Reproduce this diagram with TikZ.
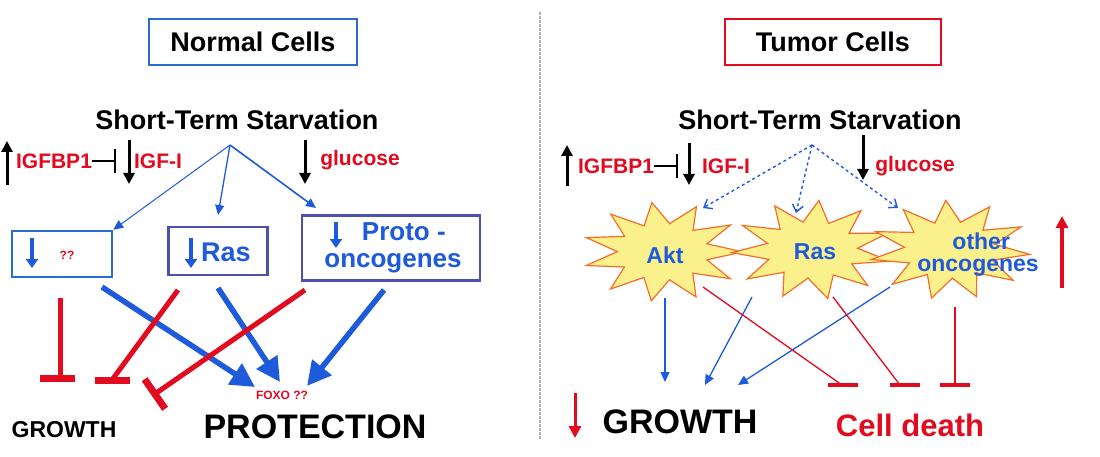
\documentclass[tikz,border=0pt]{standalone}
\usepackage{fontspec}
\setmainfont{Liberation Sans}
\usetikzlibrary{arrows.meta,shapes.geometric}
\definecolor{rd}{RGB}{225,10,30}
\definecolor{bl}{RGB}{30,90,220}
\definecolor{bx}{RGB}{40,110,210}
\definecolor{bx2}{RGB}{75,80,170}
\definecolor{yel}{RGB}{250,240,140}
\definecolor{org}{RGB}{245,110,40}
\tikzset{
 txt/.style={font=\bfseries\fontsize{#1}{#1}\selectfont, inner sep=0pt},
 blk/.style={-{Triangle[length=11pt,width=11pt]}, line width=3pt},
 thin/.style={bl,-{Triangle[length=10pt,width=9pt]}, line width=1.3pt},
 fat/.style={bl,-{Triangle[length=24pt,width=24pt]}, line width=5.5pt},
 rline/.style={rd, line width=5pt},
 rbar/.style={rd, line width=7pt},
 tline/.style={rd, line width=1.3pt},
 tbar/.style={rd, line width=4.5pt},
 inh/.style={rd,-{Bar[width=#1,line width=7pt]}, line width=5pt},
 dsh/.style={bl,dashed,-{Straight Barb[length=7pt,width=11pt]}, line width=1.4pt},
 starb/.style={star, star points=11, star point ratio=1.75, minimum size=160pt, fill=yel, draw=org, line width=1.2pt, inner sep=0pt},
}
\begin{document}
\begin{tikzpicture}[x=1pt,y=-1pt]
\useasboundingbox[fill=white] (0,0) rectangle (1100,457);
\draw[gray!60, line width=1.5pt, dash pattern=on 3pt off 1pt] (540,12) -- (540,440);
% ---------- Normal
\node[txt=27, draw=bx, line width=2.5pt, minimum width=208pt, minimum height=46pt] (nc) at (253,42) {Normal Cells};
\node[txt=27] (s1) at (237,120) {Short-Term Starvation};
\coordinate (h1) at (230,145);
\node[txt=21, text=rd] (igb1) at (54,161) {IGFBP1};
\draw[blk] (7,185) -- (7,141);
\node[txt=21, text=rd] (igf1) at (158,161) {IGF-I};
\draw[blk] (129,140) -- (129,184);
\draw[line width=2.4pt, -{Bar[width=24pt,line width=2.4pt]}] (igb1.east) -- (116,161);
\node[txt=21, text=rd] (glu1) at (360,160) {glucose};
\draw[blk] (305,140) -- (305,184);
\node[draw=bx, line width=2.5pt, minimum width=100pt, minimum height=46pt] (b1) at (62,254) {};
\draw[bl, line width=3.5pt, -{Triangle[length=9pt,width=12pt]}] (32,238) -- (32,268);
\node[txt=12, text=rd] at (67,255) {??};
\node[draw=bx2, line width=2.5pt, minimum width=99pt, minimum height=48pt] (b2) at (218,251) {};
\node[txt=27, text=bl] at (226,252) {Ras};
\draw[bl, line width=3.5pt, -{Triangle[length=9pt,width=12pt]}] (191,238) -- (191,268);
\node[draw=bx2, line width=2.5pt, minimum width=178pt, minimum height=65pt] (b3) at (391,248) {};
\node[txt=26, text=bl, align=center] at (393,248) {\ \ \ Proto -\\[1pt]oncogenes};
\draw[bl, line width=3.5pt, -{Triangle[length=9pt,width=12pt]}] (336,222) -- (336,248);
\draw[thin, line width=1pt] (h1) -- (b1.north east);
\draw[thin] (h1) -- (218,215);
\draw[thin, line width=1.6pt] (h1) -- (316,208);
\node[txt=12, text=rd] (foxo) at (282,395) {FOXO ??};
\node[txt=34] (prot) at (315,427) {PROTECTION};
\node[txt=23] (gr1) at (64,430) {GROWTH};
\draw[fat] (102,287) -- (255,387);
\draw[fat] (218,288) -- (280,382);
\draw[fat] (384,290) -- (307,386);
\coordinate (g1) at (60,378);
\coordinate (g2) at (112,380);
\draw[rline] (60,298) -- (g1);
\draw[rbar] ([xshift=-20pt]g1) -- ([xshift=15pt]g1);
\draw[rline] (178,290) -- (g2);
\draw[rbar] ([xshift=-17pt]g2) -- ([xshift=18pt]g2);
\draw[inh=36pt] (305,290) -- (152,396);
% ---------- Tumor
\node[txt=27, draw=rd, line width=2.5pt, minimum width=216pt, minimum height=46pt] (tc) at (833,42) {Tumor Cells};
\node[txt=27] (s2) at (820,120) {Short-Term Starvation};
\coordinate (h2) at (812,145);
\node[txt=21, text=rd] (igb2) at (616,166) {IGFBP1};
\draw[blk] (567,186) -- (567,145);
\node[txt=21, text=rd] (igf2) at (726,166) {IGF-I};
\draw[blk] (689,143) -- (689,185);
\draw[line width=2.4pt, -{Bar[width=24pt,line width=2.4pt]}] (igb2.east) -- (678,166);
\node[txt=21, text=rd] (glu2) at (915,166) {glucose};
\draw[blk] (863,135) -- (863,180);
\begin{scope}[yscale=0.62, transform shape]
\node[starb, rotate=8] (st1) at (663,406) {};
\node[starb, rotate=-5] (st2) at (812,403) {};
\node[starb, rotate=3] (st3) at (950,403) {};
\end{scope}
\node[txt=23, text=bl] (akt) at (665,255) {Akt};
\node[txt=23, text=bl] (ras2) at (815,252) {Ras};
\node[txt=23, text=bl, align=center] (oth) at (978,255) {\ other\\[-1pt]oncogenes};
\draw[dsh] (h2) -- (703,208);
\draw[dsh] (h2) -- (796,213);
\draw[dsh] (h2) -- (898,208);
\draw[rd, line width=3.5pt, -{Triangle[length=12pt,width=12pt]}] (1062,288) -- (1062,216);
\node[txt=34] (gr2) at (680,422) {GROWTH};
\draw[rd, line width=3pt, -{Triangle[length=12pt,width=12pt]}] (575,393) -- (575,438);
\node[txt=31, text=rd] (cd) at (910,425) {Cell death};
\draw[thin] (665,298) -- (665,382);
\draw[thin] (752,297) -- (705,385);
\draw[thin] (890,287) -- (738,385);
\coordinate (c1) at (842,385);
\coordinate (c2) at (900,385);
\coordinate (c3) at (955,385);
\draw[tline] (703,287) -- (c1);
\draw[tbar] ([xshift=-14pt]c1) -- ([xshift=16pt]c1);
\draw[tline] (833,297) -- (c2);
\draw[tbar] ([xshift=-10pt]c2) -- ([xshift=20pt]c2);
\draw[tline] (955,307) -- (c3);
\draw[tbar] ([xshift=-15pt]c3) -- ([xshift=15pt]c3);
\end{tikzpicture}
\end{document}
